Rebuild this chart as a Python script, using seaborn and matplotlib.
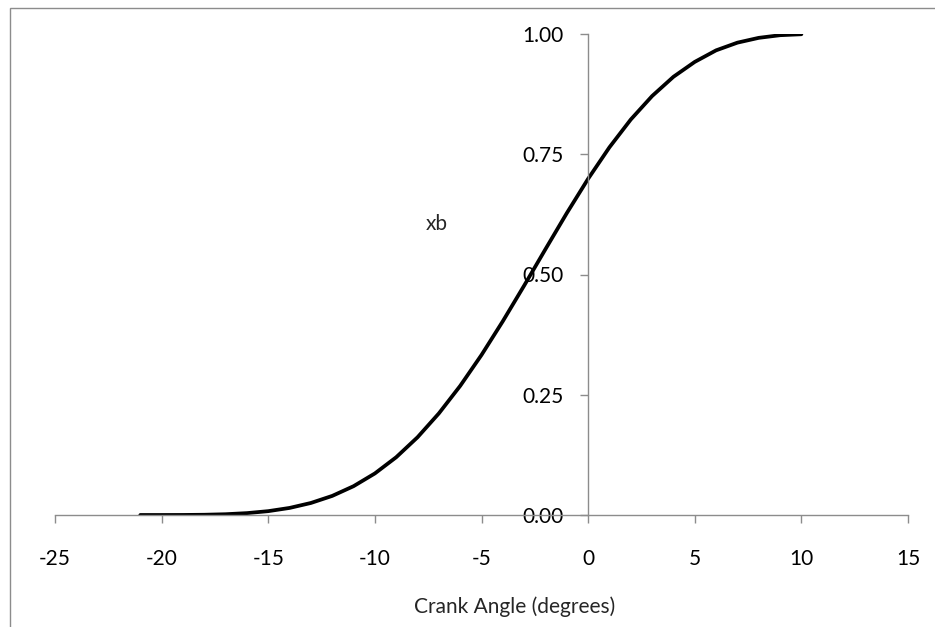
import matplotlib
matplotlib.use("Agg")
import matplotlib.pyplot as plt
import matplotlib.patches as mpatches
import pandas as pd
import seaborn as sns

# Mass fraction burned versus crank angle
crank_angle = [-21, -20, -19, -18, -17, -16, -15, -14, -13, -12, -11, -10,
               -9, -8, -7, -6, -5, -4, -3, -2, -1, 0, 1, 2, 3, 4, 5,
               6, 7, 8, 9, 10]
xb = [0.0000, 0.0000, 0.0001, 0.0005, 0.0016, 0.0039, 0.0080, 0.0147,
      0.0250, 0.0397, 0.0599, 0.0864, 0.1201, 0.1616, 0.2112, 0.2684,
      0.3327, 0.4029, 0.4769, 0.5527, 0.6276, 0.6990, 0.7645, 0.8222,
      0.8710, 0.9110, 0.9420, 0.9660, 0.9820, 0.9920, 0.9975, 0.9995]
x_ticks = [-25, -20, -15, -10, -5, 0, 5, 10, 15]
y_ticks = [0.00, 0.25, 0.50, 0.75, 1.00]
y_tick_labels = ["0.00", "0.25", "0.50", "0.75", "1.00"]

df = pd.DataFrame({"Crank Angle (degrees)": crank_angle, "xb": xb})

sns.set_theme(style="white")
plt.rcParams["font.family"] = ["Lato", "DejaVu Sans"]

W, H = 935, 627
fig = plt.figure(figsize=(W / 100, H / 100), dpi=100)
ax = fig.add_axes([55 / W, (H - 515) / H, (908 - 55) / W, (515 - 34) / H])

sns.lineplot(data=df, x="Crank Angle (degrees)", y="xb", ax=ax,
             color="black", linewidth=2.7, legend=False)

ax.set_xlim(-25, 15)
ax.set_ylim(0, 1)
ax.set_xticks(x_ticks)
ax.set_xticklabels([str(t) for t in x_ticks])
ax.set_yticks(y_ticks)
ax.set_yticklabels(y_tick_labels)
ax.set_xlabel("")
ax.set_ylabel("")

axis_grey = "#8c8c8c"
for side in ["top", "right"]:
    ax.spines[side].set_visible(False)
ax.spines["left"].set_position(("data", 0))
for side in ["left", "bottom"]:
    ax.spines[side].set_color(axis_grey)
    ax.spines[side].set_linewidth(1.0)
ax.tick_params(axis="both", which="major", direction="out", length=5.5,
               width=1.0, color=axis_grey, labelsize=15, labelcolor="black")
ax.tick_params(axis="x", pad=19, bottom=True)
ax.tick_params(axis="y", pad=12, left=True)
ax.patch.set_alpha(0)

# Axis titles
fig.text(515 / W, 1 - 607 / H, "Crank Angle (degrees)", ha="center",
         va="center", fontsize=15)
fig.text(437 / W, 1 - 224 / H, "xb", ha="center", va="center", fontsize=15)

# Chart area border
border = mpatches.Rectangle((10 / W, -0.1), 1.2, 1 - 8 / H + 0.1,
                            transform=fig.transFigure, fill=False,
                            edgecolor="#8c8c8c", linewidth=1.0, zorder=0)
fig.patches.append(border)

fig.savefig("out.png", dpi=100, facecolor="white")
